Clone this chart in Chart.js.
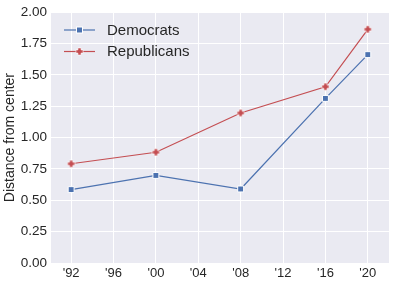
<!DOCTYPE html>
<html lang="en">
<head>
<meta charset="utf-8">
<title>Distance from center</title>
<style>
  html, body { margin: 0; padding: 0; background: #fff; }
  #wrap { width: 395px; height: 284px; }
</style>
</head>
<body>
<div id="wrap"><canvas id="chart" width="395" height="284"></canvas></div>
<script src="https://cdn.jsdelivr.net/npm/chart.js"></script>
<script>
const years = [1992, 2000, 2008, 2016, 2020];
const tickYears = [1992, 1996, 2000, 2004, 2008, 2012, 2016, 2020];
const democrats = [0.585, 0.698, 0.59, 1.312, 1.661];
const republicans = [0.791, 0.883, 1.196, 1.405, 1.863];
const seriesNames = ['Democrats', 'Republicans'];
const yTitle = 'Distance from center';

const BLUE = '#4C72B0';
const RED = '#C44E52';
const FONT = '"Liberation Sans", Arial, sans-serif';

// filled plus marker (seaborn 'P') with a white edge
function plusMarker(color) {
    const c = document.createElement('canvas');
    c.width = 9; c.height = 9;
    const g = c.getContext('2d');
    const m = 4.5, a = 1.6, b = 3.6;
    g.beginPath();
    g.moveTo(m - a, m - b); g.lineTo(m + a, m - b);
    g.lineTo(m + a, m - a); g.lineTo(m + b, m - a);
    g.lineTo(m + b, m + a); g.lineTo(m + a, m + a);
    g.lineTo(m + a, m + b); g.lineTo(m - a, m + b);
    g.lineTo(m - a, m + a); g.lineTo(m - b, m + a);
    g.lineTo(m - b, m - a); g.lineTo(m - a, m - a);
    g.closePath();
    g.fillStyle = color;
    g.fill();
    g.lineWidth = 0.7;
    g.strokeStyle = 'rgba(255,255,255,0.9)';
    g.stroke();
    return c;
}
const redMarker = plusMarker(RED);

function squareMarker(ctx, x, y, color) {
    ctx.fillStyle = color;
    ctx.strokeStyle = '#fff';
    ctx.lineWidth = 1;
    ctx.fillRect(x - 3, y - 3, 6, 6);
    ctx.strokeRect(x - 3, y - 3, 6, 6);
}

const bgPlugin = {
    id: 'bg',
    beforeDraw(chart) {
        const { ctx, chartArea: a } = chart;
        ctx.save();
        ctx.fillStyle = '#EAEAF2';
        ctx.fillRect(a.left, a.top, a.right - a.left, a.bottom - a.top);
        ctx.restore();
    }
};

const legendPlugin = {
    id: 'innerLegend',
    afterDatasetsDraw(chart) {
        const ctx = chart.ctx;
        const rows = [
            { name: seriesNames[0], color: BLUE, y: 30 },
            { name: seriesNames[1], color: RED, y: 51.5 }
        ];
        ctx.save();
        rows.forEach((r, i) => {
            ctx.strokeStyle = r.color;
            ctx.lineWidth = 1.2;
            ctx.beginPath();
            ctx.moveTo(64, r.y);
            ctx.lineTo(95, r.y);
            ctx.stroke();
            if (i === 0) squareMarker(ctx, 79.5, r.y, r.color);
            else ctx.drawImage(redMarker, 79.5 - 4.5, r.y - 4.5);
            ctx.fillStyle = '#262626';
            ctx.font = '15px ' + FONT;
            ctx.textBaseline = 'middle';
            ctx.textAlign = 'left';
            ctx.fillText(r.name, 107, r.y + 0.5);
        });
        ctx.restore();
    }
};

const toPoints = vals => vals.map((v, i) => ({ x: years[i], y: v }));

new Chart(document.getElementById('chart'), {
    type: 'line',
    data: {
        datasets: [{
            label: seriesNames[0],
            data: toPoints(democrats),
            borderColor: BLUE,
            backgroundColor: BLUE,
            borderWidth: 1.2,
            pointStyle: 'rect',
            pointRadius: 4.2,
            pointBorderColor: '#fff',
            pointBorderWidth: 1,
            tension: 0
        }, {
            label: seriesNames[1],
            data: toPoints(republicans),
            borderColor: RED,
            backgroundColor: RED,
            borderWidth: 1.2,
            pointStyle: redMarker,
            pointRadius: 4.5,
            tension: 0
        }]
    },
    options: {
        responsive: false,
        devicePixelRatio: 1,
        animation: false,
        events: [],
        layout: { padding: { top: 10, right: 6, left: 0, bottom: 0 } },
        plugins: {
            legend: { display: false },
            tooltip: { enabled: false }
        },
        scales: {
            x: {
                type: 'linear',
                min: 1990.1,
                max: 2022,
                afterBuildTicks: s => { s.ticks = tickYears.map(v => ({ value: v })); },
                afterFit: s => { s.height = 21; },
                grid: { color: '#fff', lineWidth: 1, drawTicks: false },
                border: { display: false },
                ticks: {
                    padding: 3,
                    color: '#262626',
                    font: { family: FONT, size: 13 },
                    maxRotation: 0,
                    callback: v => "'" + String(v).slice(2)
                }
            },
            y: {
                min: 0,
                max: 2,
                afterFit: s => { s.width = 51; },
                grid: { color: '#fff', lineWidth: 1, drawTicks: false },
                border: { display: false },
                ticks: {
                    stepSize: 0.25,
                    padding: 4,
                    color: '#262626',
                    font: { family: FONT, size: 13.5 },
                    callback: v => v.toFixed(2)
                },
                title: {
                    display: true,
                    text: yTitle,
                    color: '#262626',
                    font: { family: FONT, size: 14 },
                    padding: { top: 2, bottom: 0 }
                }
            }
        }
    },
    plugins: [bgPlugin, legendPlugin]
});
</script>
</body>
</html>
